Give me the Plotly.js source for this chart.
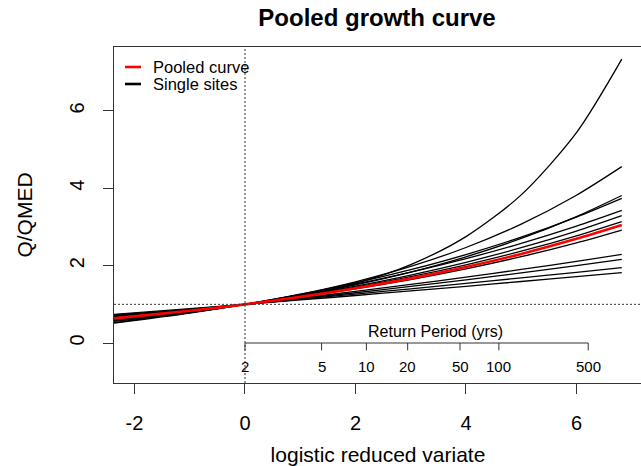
<!DOCTYPE html>
<html>
<head>
<meta charset="utf-8">
<script src="https://cdn.plot.ly/plotly-3.0.1.min.js"></script>
<style>
html,body{margin:0;padding:0;overflow:hidden;background:#fff;}
#chart{width:650px;height:466px;}
</style>
</head>
<body>
<div id="chart"></div>
<script>
// reduced variate positions where the curves were read
const xVariate = [-2.37, -1, 0, 1, 2, 3, 4, 5, 6, 6.82];

// pooled growth curve (Q/QMED)
const pooled = [0.637, 0.832, 1, 1.193, 1.416, 1.671, 1.965, 2.304, 2.693, 3.05];

// single-site growth curves (Q/QMED)
const site01 = [0.729, 0.854, 1, 1.218, 1.543, 2.028, 2.751, 3.830, 5.44, 7.34];
const site02 = [0.562, 0.788, 1, 1.261, 1.583, 1.981, 2.470, 3.075, 3.821, 4.56];
const site03 = [0.595, 0.808, 1, 1.230, 1.506, 1.836, 2.230, 2.703, 3.270, 3.815];
const site04 = [0.516, 0.776, 1, 1.258, 1.554, 1.895, 2.287, 2.738, 3.256, 3.739];
const site05 = [0.526, 0.783, 1, 1.244, 1.520, 1.831, 2.181, 2.576, 3.021, 3.429];
const site06 = [0.584, 0.808, 1, 1.219, 1.471, 1.758, 2.088, 2.464, 2.896, 3.295];
const site07 = [0.602, 0.817, 1, 1.208, 1.445, 1.716, 2.023, 2.373, 2.772, 3.14];
const site08 = [0.643, 0.836, 1, 1.187, 1.400, 1.642, 1.918, 2.232, 2.590, 2.921];
const site09 = [0.645, 0.845, 1, 1.163, 1.334, 1.514, 1.703, 1.902, 2.111, 2.290];
const site10 = [0.681, 0.861, 1, 1.146, 1.300, 1.462, 1.632, 1.811, 1.999, 2.160];
const site11 = [0.699, 0.871, 1, 1.131, 1.265, 1.402, 1.541, 1.684, 1.829, 1.950];
const site12 = [0.740, 0.889, 1, 1.113, 1.229, 1.347, 1.467, 1.590, 1.715, 1.820];

// axis ticks
const xTickVals = [-2, 0, 2, 4, 6];
const xTickText = ['-2', '0', '2', '4', '6'];
const yTickVals = [0, 2, 4, 6];
const yTickText = ['0', '2', '4', '6'];
const returnPeriods = [2, 5, 10, 20, 50, 100, 500];

// legend entries
const legendLabels = ['Pooled curve', 'Single sites'];
const legendColors = ['#ff0000', '#000000'];

const sites = [site01, site02, site03, site04, site05, site06,
               site07, site08, site09, site10, site11, site12];

const FONT = 'Liberation Sans, Arial, Helvetica, sans-serif';
const traces = [];
sites.forEach((s, i) => {
  traces.push({
    x: xVariate, y: s, type: 'scatter', mode: 'lines',
    line: {color: '#000000', width: 1.3, shape: 'spline', smoothing: 0.8},
    name: 'Single sites', legendgroup: 'sites', showlegend: false,
    hoverinfo: 'skip'
  });
});
traces.push({
  x: xVariate, y: pooled, type: 'scatter', mode: 'lines',
  line: {color: '#ff0000', width: 2.6, shape: 'spline', smoothing: 0.8},
  name: 'Pooled curve', showlegend: false, hoverinfo: 'skip'
});

// return period secondary axis (reduced variate of logistic: ln(T-1))
const rpPos = returnPeriods.map(T => Math.log(T - 1));
const shapes = [
  {type: 'line', xref: 'x', yref: 'paper', x0: 0, x1: 0, y0: 0, y1: 1,
   line: {color: '#333', width: 1, dash: '2px,2px'}},
  {type: 'line', xref: 'paper', yref: 'y', x0: 0, x1: 1, y0: 1, y1: 1,
   line: {color: '#333', width: 1, dash: '2px,2px'}},
  {type: 'line', xref: 'x', yref: 'y', x0: rpPos[0], x1: rpPos[rpPos.length - 1], y0: 0, y1: 0,
   line: {color: '#333', width: 1}}
];
const annotations = [];
rpPos.forEach((p, i) => {
  shapes.push({type: 'line', xref: 'x', yref: 'y', x0: p, x1: p, y0: 0, y1: -0.19,
               line: {color: '#333', width: 1}});
  annotations.push({xref: 'x', yref: 'y', x: p, y: -0.62, text: String(returnPeriods[i]),
                    showarrow: false, xanchor: 'center', yanchor: 'middle',
                    font: {family: FONT, size: 15, color: '#000'}});
});
annotations.push({xref: 'x', yref: 'y', x: 3.44, y: 0.31, text: 'Return Period (yrs)',
                  showarrow: false, xanchor: 'center', yanchor: 'middle',
                  font: {family: FONT, size: 16, color: '#000'}});

// manual legend (top-left, inside the box)
const plotW = 650 - 114 - 8, plotH = 466 - 47 - 83;
legendLabels.forEach((lab, i) => {
  const py = 67 + i * 17;              // pixel row
  const yp = 1 - (py - 47) / plotH;    // paper y
  shapes.push({type: 'line', xref: 'paper', yref: 'paper',
               x0: (125 - 114) / plotW, x1: (141 - 114) / plotW, y0: yp, y1: yp,
               line: {color: legendColors[i], width: 2.6}});
  annotations.push({xref: 'paper', yref: 'paper', x: (151 - 114) / plotW, y: yp,
                    text: lab, showarrow: false, xanchor: 'left', yanchor: 'middle',
                    font: {family: FONT, size: 16.5, color: '#000'}});
});

const layout = {
  width: 650, height: 466,
  margin: {l: 114, r: 8, t: 47, b: 83},
  paper_bgcolor: '#ffffff', plot_bgcolor: '#ffffff',
  font: {family: FONT, color: '#000'},
  title: {text: '<b>Pooled growth curve</b>', x: 377 / 650, xanchor: 'center',
          y: 1 - 18 / 466, yanchor: 'middle', font: {family: FONT, size: 24, color: '#000'}},
  xaxis: {
    range: [-2.371, 7.186], tickmode: 'array', tickvals: xTickVals, ticktext: xTickText,
    ticks: 'outside', ticklen: 10, tickwidth: 1, tickcolor: '#333',
    showline: true, linecolor: '#333', linewidth: 1, mirror: true,
    showgrid: false, zeroline: false, ticklabelstandoff: 12,
    tickfont: {family: FONT, size: 20, color: '#000'},
    title: {text: 'logistic reduced variate', standoff: 15,
            font: {family: FONT, size: 21, color: '#000'}}
  },
  yaxis: {
    range: [-1.034, 7.654], tickmode: 'array', tickvals: yTickVals, ticktext: yTickText,
    ticks: 'outside', ticklen: 10, tickwidth: 1, tickcolor: '#333', tickangle: -90,
    showline: true, linecolor: '#333', linewidth: 1, mirror: true,
    showgrid: false, zeroline: false, ticklabelstandoff: 11,
    tickfont: {family: FONT, size: 20, color: '#000'},
    title: {text: 'Q/QMED', standoff: 27,
            font: {family: FONT, size: 21, color: '#000'}}
  },
  showlegend: false,
  shapes: shapes,
  annotations: annotations
};

Plotly.newPlot('chart', traces, layout, {staticPlot: true, displayModeBar: false});
</script>
</body>
</html>
